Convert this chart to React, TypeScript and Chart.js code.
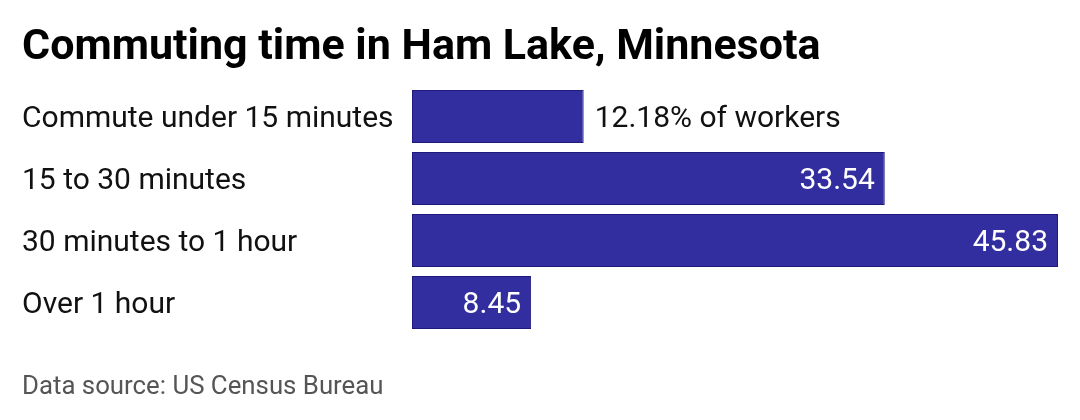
import React, { useEffect, useRef } from "react";
import { Chart, registerables } from "chart.js";

Chart.register(...registerables);

const TITLE = "Commuting time in Ham Lake, Minnesota";
const SOURCE = "Data source: US Census Bureau";
const categories = [
  "Commute under 15 minutes",
  "15 to 30 minutes",
  "30 minutes to 1 hour",
  "Over 1 hour",
];
const values = [12.18, 33.54, 45.83, 8.45];
const valueLabels = ["12.18% of workers", "33.54", "45.83", "8.45"];

const FONT = "Roboto, 'Noto Sans', sans-serif";

const barLabelPlugin = {
  id: "barLabels",
  afterDatasetsDraw(chart: any) {
    const ctx = chart.ctx;
    const meta = chart.getDatasetMeta(0);
    ctx.save();
    ctx.font = `30px ${FONT}`;
    ctx.textBaseline = "middle";
    meta.data.forEach((bar: any, i: number) => {
      const text = valueLabels[i];
      const w = ctx.measureText(text).width;
      const barW = bar.x - bar.base;
      if (w + 20 <= barW) {
        ctx.fillStyle = "#ffffff";
        ctx.textAlign = "right";
        ctx.fillText(text, bar.x - 10, bar.y + 2.5);
      } else {
        ctx.fillStyle = "#111111";
        ctx.textAlign = "left";
        ctx.fillText(text, bar.x + 11, bar.y + 2.5);
      }
    });
    ctx.restore();
  },
};

export default function App() {
  const canvasRef = useRef<HTMLCanvasElement | null>(null);

  useEffect(() => {
    document.body.style.margin = "0";
    const canvas = canvasRef.current;
    if (!canvas) return;
    const chart = new Chart(canvas, {
      type: "bar",
      data: {
        labels: categories,
        datasets: [
          {
            data: values,
            backgroundColor: "#332ea0",
            borderColor: "#1d1a7c",
            borderWidth: 1,
            borderSkipped: false,
            barPercentage: 1,
            categoryPercentage: 0.855,
          },
        ],
      },
      options: {
        indexAxis: "y",
        animation: false,
        responsive: false,
        maintainAspectRatio: false,
        layout: { padding: { left: 22, right: 22, top: 85.5, bottom: 86.5 } },
        plugins: {
          legend: { display: false },
          tooltip: { enabled: false },
          title: { display: false },
        },
        scales: {
          x: {
            display: false,
            min: 0,
            max: Math.max(...values),
          },
          y: {
            grid: { display: false },
            border: { display: false },
            ticks: {
              crossAlign: "far",
              padding: 0,
              labelOffset: 2.5,
              color: "#111111",
              font: { family: FONT, size: 30 },
            },
            afterFit(scale: any) {
              scale.width = 390;
            },
          },
        },
      },
      plugins: [barLabelPlugin],
    } as any);
    return () => chart.destroy();
  }, []);

  return (
    <div style={{ position: "relative", width: 1080, height: 420, background: "#fff", overflow: "hidden" }}>
      <canvas ref={canvasRef} width={1080} height={420} style={{ position: "absolute", left: 0, top: 0, width: 1080, height: 420 }} />
      <div
        style={{
          position: "absolute",
          left: 22,
          top: 23,
          fontFamily: FONT,
          fontWeight: 700,
          fontSize: 43,
          lineHeight: "43px",
          color: "#000",
          whiteSpace: "nowrap",
        }}
      >
        {TITLE}
      </div>
      <div
        style={{
          position: "absolute",
          left: 22,
          top: 372,
          fontFamily: FONT,
          fontSize: 25.8,
          lineHeight: "26px",
          color: "#555555",
          whiteSpace: "nowrap",
        }}
      >
        {SOURCE}
      </div>
    </div>
  );
}
